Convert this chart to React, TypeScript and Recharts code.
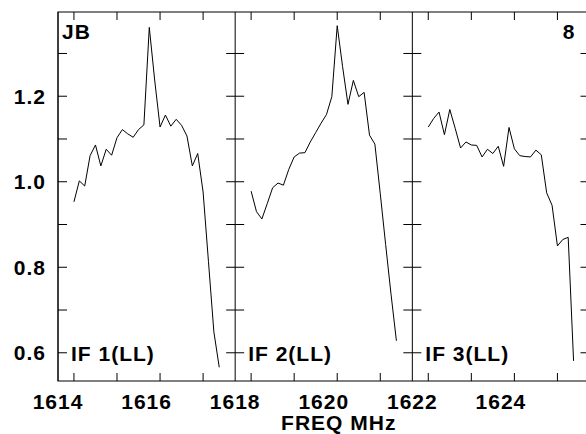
import { LineChart, Line, XAxis, YAxis, ReferenceLine } from 'recharts';

// panel layout (MHz)
const IF_NAMES = ['IF 1(LL)', 'IF 2(LL)', 'IF 3(LL)'];
const IF_EDGES = [1614, 1618, 1622, 1626];
const IF_START_MHZ = [1614.36, 1618.36, 1622.36];
const CHAN_WIDTH_MHZ = 0.1215;
const TICK_CHANNELS = [0, 8, 16, 24];
const X_DOMAIN = [1614, 1626];
const Y_DOMAIN = [0.534, 1.397];

// amplitude per channel
const if1Amp = [
  0.953, 1.002, 0.99, 1.061, 1.086, 1.037, 1.076, 1.062, 1.103, 1.122, 1.112, 1.104, 1.122, 1.133,
  1.361, 1.238, 1.128, 1.156, 1.13, 1.146, 1.132, 1.107, 1.037, 1.066, 0.976, 0.813, 0.649, 0.566,
];
const if2Amp = [
  0.978, 0.93, 0.913, 0.949, 0.986, 0.997, 0.992, 1.029, 1.058, 1.067, 1.068, 1.093, 1.115, 1.137,
  1.157, 1.199, 1.365, 1.269, 1.181, 1.237, 1.199, 1.209, 1.109, 1.088, 0.972, 0.853, 0.737, 0.628,
];
const if3Amp = [
  1.128, 1.148, 1.163, 1.11, 1.169, 1.125, 1.079, 1.093, 1.086, 1.085, 1.058, 1.076, 1.066, 1.083,
  1.036, 1.127, 1.077, 1.061, 1.059, 1.058, 1.074, 1.063, 0.974, 0.945, 0.85, 0.865, 0.87, 0.581,
];

const freqTicks = [1614, 1616, 1618, 1620, 1622, 1624];
const ampTicks = [0.6, 0.8, 1.0, 1.2];
const ampMinorTicks = [0.6, 0.7, 0.8, 0.9, 1.0, 1.1, 1.2, 1.3];

const spectra = [if1Amp, if2Amp, if3Amp].map((amps, k) =>
  amps.map((amp, i) => ({ freq: IF_START_MHZ[k] + i * CHAN_WIDTH_MHZ, amp }))
);
const chanTickFreqs = IF_START_MHZ.flatMap((s) => TICK_CHANNELS.map((c) => s + c * CHAN_WIDTH_MHZ));

const W = 600;
const H = 434;
const MARGIN = { top: 12, right: 10.5, bottom: 0, left: 0 };
const Y_AXIS_W = 58;
const X_AXIS_H = 53;
const PLOT_L = MARGIN.left + Y_AXIS_W;
const PLOT_T = MARGIN.top;
const PLOT_W = W - MARGIN.right - PLOT_L;
const PLOT_H = H - MARGIN.top - X_AXIS_H;
const TICK = 9;

// same linear mapping as the chart, only used for the frame decoration
const fx = (f: number) => PLOT_L + ((f - X_DOMAIN[0]) / (X_DOMAIN[1] - X_DOMAIN[0])) * PLOT_W;
const fy = (v: number) => PLOT_T + ((Y_DOMAIN[1] - v) / (Y_DOMAIN[1] - Y_DOMAIN[0])) * PLOT_H;

const FONT = {
  fontFamily: '"Liberation Sans", Arial, sans-serif',
  fontWeight: 700,
  fontSize: 21,
  letterSpacing: 1,
  fill: '#000',
};

const PanelCaption = ({ viewBox, name }: any) => (
  <text x={viewBox.x + 13} y={viewBox.y + viewBox.height - 20} style={FONT}>
    {name}
  </text>
);

const CornerText = ({ viewBox, text, side }: any) => (
  <text
    x={side === 'left' ? viewBox.x + 4 : viewBox.x - 14}
    y={viewBox.y + 27}
    textAnchor={side === 'left' ? 'start' : 'end'}
    style={FONT}
  >
    {text}
  </text>
);

const AxisTitle = ({ viewBox }: any) => (
  <text x={viewBox.x + viewBox.width / 2 + 15} y={viewBox.y + 49} textAnchor="middle" style={FONT}>
    FREQ MHz
  </text>
);

function Frame() {
  const top = PLOT_T;
  const bottom = PLOT_T + PLOT_H;
  return (
    <svg width={W} height={H} style={{ position: 'absolute', left: 0, top: 0, pointerEvents: 'none' }}>
      <g stroke="#000" strokeWidth={1} fill="none">
        <rect x={PLOT_L} y={top} width={PLOT_W} height={PLOT_H} />
        {IF_EDGES.map((e, k) => (
          <g key={e}>
            <line x1={fx(e)} x2={fx(e)} y1={top} y2={bottom} />
            {ampMinorTicks.map((v) => (
              <g key={v}>
                {k > 0 && <line x1={fx(e) - TICK} x2={fx(e)} y1={fy(v)} y2={fy(v)} />}
                {k < 3 && <line x1={fx(e)} x2={fx(e) + TICK} y1={fy(v)} y2={fy(v)} />}
              </g>
            ))}
          </g>
        ))}
        {chanTickFreqs.map((f) => (
          <g key={f}>
            <line x1={fx(f)} x2={fx(f)} y1={top} y2={top + 8} />
            <line x1={fx(f)} x2={fx(f)} y1={bottom - 8} y2={bottom} />
          </g>
        ))}
      </g>
    </svg>
  );
}

const layer = { position: 'absolute' as const, left: 0, top: 0 };

export default function App() {
  return (
    <div style={{ ...layer, width: 586, height: 434, overflow: 'hidden', background: '#fff' }}>
      <div style={layer}>
        <LineChart width={W} height={H} margin={MARGIN}>
          <XAxis
            dataKey="freq"
            type="number"
            domain={X_DOMAIN}
            ticks={freqTicks}
            allowDataOverflow
            height={X_AXIS_H}
            tickLine={false}
            axisLine={false}
            tickSize={0}
            tickMargin={13}
            tick={FONT}
            label={<AxisTitle />}
          />
          <YAxis
            type="number"
            domain={Y_DOMAIN}
            ticks={ampTicks}
            allowDataOverflow
            width={Y_AXIS_W}
            tickLine={false}
            axisLine={false}
            tickSize={0}
            tickMargin={12}
            tick={FONT}
            tickFormatter={(v: number) => v.toFixed(1)}
          />
          {IF_NAMES.map((name, k) => (
            <ReferenceLine key={name} x={IF_EDGES[k]} ifOverflow="visible" stroke="none" label={<PanelCaption name={name} />} />
          ))}
          <ReferenceLine x={IF_EDGES[0]} ifOverflow="visible" stroke="none" label={<CornerText text="JB" side="left" />} />
          <ReferenceLine x={IF_EDGES[3]} ifOverflow="visible" stroke="none" label={<CornerText text="8" side="right" />} />
          {spectra.map((d, k) => (
            <Line
              key={IF_NAMES[k]}
              data={d}
              dataKey="amp"
              type="linear"
              stroke="#000"
              strokeWidth={1}
              dot={false}
              isAnimationActive={false}
            />
          ))}
        </LineChart>
      </div>
      <Frame />
    </div>
  );
}
